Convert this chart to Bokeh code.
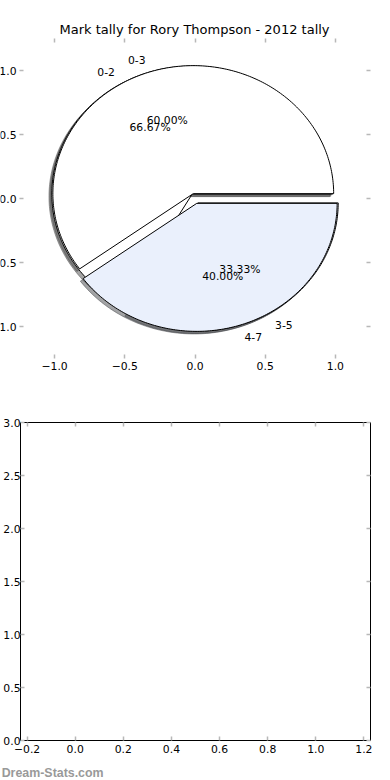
import math
from bokeh.plotting import figure
from bokeh.models import (Range1d, LinearAxis, FixedTicker, CustomJSTickFormatter,
                          ColumnDataSource)
from bokeh.layouts import column
from bokeh.core.properties import value, field
from bokeh.embed import file_html
from bokeh.resources import INLINE

# ---------------- data ----------------
title_text = "Mark tally for Rory Thompson - 2012 tally"
pie1_labels = ["0-2", "3-5"]
pie1_shares = [66.67, 33.33]
pie2_labels = ["0-3", "4-7"]
pie2_shares = [60.0, 40.0]
slice_colors = ["#ffffff", "#eaf0fc"]
explode = 0.04
pie_ticks = [-1.0, -0.5, 0.0, 0.5, 1.0]
bottom_x_ticks = [-0.2, 0.0, 0.2, 0.4, 0.6, 0.8, 1.0, 1.2]
bottom_y_ticks = [0.0, 0.5, 1.0, 1.5, 2.0, 2.5, 3.0]
watermark = "Dream-Stats.com"

FONT = "DejaVu Sans"
TICK_SIZE = "10.8px"
TICK_COLOR = "#b8b8b8"
TICK_LEN = 4

fmt_code = "return tick.toFixed(1).replace('-', '\\u2212');"


def make_axis(ticks, labels_on, standoff=3):
    ax = LinearAxis(ticker=FixedTicker(ticks=ticks),
                    formatter=CustomJSTickFormatter(code=fmt_code),
                    axis_line_color=None,
                    major_tick_in=TICK_LEN, major_tick_out=0,
                    minor_tick_line_color=None,
                    major_tick_line_color=TICK_COLOR,
                    major_tick_line_width=1.5,
                    major_label_standoff=standoff if labels_on else 0,
                    major_label_text_font=FONT,
                    major_label_text_color="black" if labels_on else None,
                    major_label_text_font_size=TICK_SIZE if labels_on else "0px")
    return ax


def hex_rgb(h):
    h = h.lstrip("#")
    return tuple(int(h[i:i + 2], 16) for i in (0, 2, 4))


def wedges(labels, shares):
    total = float(sum(shares))
    out = []
    t1 = 0.0
    for lab, s, col in zip(labels, shares, slice_colors):
        t2 = t1 + 360.0 * s / total
        mid = math.radians((t1 + t2) / 2.0)
        cx, cy = explode * math.cos(mid), explode * math.sin(mid)
        n = int(abs(t2 - t1)) + 2
        angs = [math.radians(t1 + (t2 - t1) * i / n) for i in range(n + 1)]
        xs = [cx] + [cx + math.cos(a) for a in angs] + [cx]
        ys = [cy] + [cy + math.sin(a) for a in angs] + [cy]
        r, g, b = hex_rgb(col)
        shadow = "#%02x%02x%02x" % (int(0.3 * r), int(0.3 * g), int(0.3 * b))
        lx = cx + 1.1 * math.cos(mid)
        ly = cy + 1.1 * math.sin(mid)
        px = cx + 0.6 * math.cos(mid)
        py = cy + 0.6 * math.sin(mid)
        out.append(dict(xs=xs, ys=ys, color=col, shadow=shadow,
                        label=lab, lx=lx, ly=ly,
                        align="left" if lx > 0 else "right",
                        pct="%.2f%%" % (100.0 * s / total), px=px, py=py))
        t1 = t2
    return out


all_w = wedges(pie1_labels, pie1_shares) + wedges(pie2_labels, pie2_shares)

# ---------------- top: pie ----------------
# frame spans from the page's left edge so the clipped y tick labels behave as in the original
P1_W, P1_RIGHT = 390, 20
px_per_unit = 351.0 / 2.5
x_start = 1.25 - (P1_W - P1_RIGHT) / px_per_unit

p1 = figure(width=P1_W, height=400, x_range=Range1d(x_start, 1.25), y_range=Range1d(-1.25, 1.25),
            x_axis_type=None, y_axis_type=None, toolbar_location=None, output_backend="svg",
            min_border_left=0, min_border_right=P1_RIGHT, min_border_top=38, min_border_bottom=42,
            frame_align=False)
p1.outline_line_color = None

p1.title.text = title_text
p1.title.align = "left"
p1.title.offset = 59
p1.title.text_font = FONT
p1.title.text_font_size = "13px"
p1.title.text_font_style = "normal"
p1.title.text_color = "black"
p1.title.standoff = 4

p1.add_layout(make_axis(pie_ticks, True), "below")
p1.add_layout(make_axis(pie_ticks, False), "above")
p1.add_layout(make_axis(pie_ticks, False), "right")

# left-edge inward ticks and clipped y tick labels
ltick_src = ColumnDataSource(dict(
    x0=[-1.25] * len(pie_ticks), x1=[-1.25 + TICK_LEN / px_per_unit] * len(pie_ticks),
    y=pie_ticks,
    text=[("%.1f" % t).replace("-", "\u2212") for t in pie_ticks]))
p1.segment(x0="x0", y0="y", x1="x1", y1="y", source=ltick_src,
           line_color=TICK_COLOR, line_width=1.5)
p1.text(x="x0", y="y", text="text", source=ltick_src, x_offset=-3,
        text_align="right", text_baseline="middle",
        text_font=value(FONT), text_font_size=value(TICK_SIZE), text_color="black")

shadow_src = ColumnDataSource(dict(
    xs=[[x - 0.02 for x in w["xs"]] for w in all_w],
    ys=[[y - 0.02 for y in w["ys"]] for w in all_w],
    color=[w["shadow"] for w in all_w]))
p1.patches(xs="xs", ys="ys", source=shadow_src, fill_color="color", fill_alpha=0.5,
           line_color="color", line_alpha=0.5, line_width=1)

wedge_src = ColumnDataSource(dict(
    xs=[w["xs"] for w in all_w], ys=[w["ys"] for w in all_w],
    color=[w["color"] for w in all_w]))
p1.patches(xs="xs", ys="ys", source=wedge_src, fill_color="color",
           line_color="black", line_width=1)

lab_src = ColumnDataSource(dict(
    x=[w["lx"] for w in all_w], y=[w["ly"] for w in all_w],
    text=[w["label"] for w in all_w], align=[w["align"] for w in all_w]))
p1.text(x="x", y="y", text="text", source=lab_src, text_align=field("align"),
        text_baseline="middle", text_font=value(FONT), text_font_size=value(TICK_SIZE),
        text_color="black")

pct_src = ColumnDataSource(dict(
    x=[w["px"] for w in all_w], y=[w["py"] for w in all_w],
    text=[w["pct"] for w in all_w]))
p1.text(x="x", y="y", text="text", source=pct_src, text_align="center",
        text_baseline="middle", text_font=value(FONT), text_font_size=value(TICK_SIZE),
        text_color="black")

# ---------------- bottom: empty axes ----------------
p2 = figure(width=390, height=360, x_range=Range1d(-0.2274, 1.2274), y_range=Range1d(0, 3),
            x_axis_type=None, y_axis_type=None, toolbar_location=None, output_backend="svg",
            min_border_left=19, min_border_right=20, min_border_top=22, min_border_bottom=20,
            frame_align=False)
p2.outline_line_color = "black"
p2.outline_line_width = 1
p2.add_layout(make_axis(bottom_x_ticks, True, 4), "below")
p2.add_layout(make_axis(bottom_x_ticks, False), "above")
p2.add_layout(make_axis(bottom_y_ticks, True, 0), "left")
p2.add_layout(make_axis(bottom_y_ticks, False), "right")

# ---------------- watermark strip ----------------
p3 = figure(width=390, height=20, x_range=Range1d(0, 1), y_range=Range1d(0, 1),
            x_axis_type=None, y_axis_type=None, toolbar_location=None, output_backend="svg",
            min_border=0, frame_align=False, title=None)
p3.outline_line_color = None
wm_src = ColumnDataSource(dict(x=[0.003], y=[0.38], text=[watermark]))
p3.text(x="x", y="y", text="text", source=wm_src, text_align="left",
        text_baseline="alphabetic", text_font=value("Liberation Sans"),
        text_font_style="bold", text_font_size=value("12.4px"), text_color="#999999")

layout = column(p1, p2, p3)
open("out.html", "w").write(file_html(layout, INLINE))
